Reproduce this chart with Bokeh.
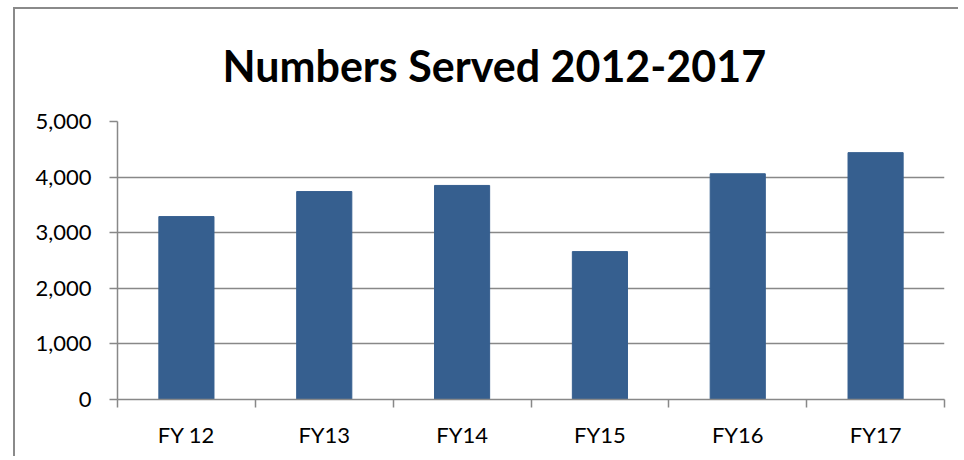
from bokeh.plotting import figure
from bokeh.models import Range1d, FixedTicker, NumeralTickFormatter, ColumnDataSource
from bokeh.embed import file_html
from bokeh.resources import INLINE

categories = ["FY 12", "FY13", "FY14", "FY15", "FY16", "FY17"]
served = [3290, 3740, 3850, 2660, 4060, 4440]
y_ticks = [0, 1000, 2000, 3000, 4000, 5000]
title_text = "Numbers Served 2012-2017"

centers = [i + 0.5 for i in range(len(categories))]
bounds = list(range(len(categories) + 1))

src = ColumnDataSource(dict(x=centers, top=served, cat=categories))

p = figure(width=945, height=449, output_backend="svg", toolbar_location=None,
           x_range=Range1d(0, len(categories)), y_range=Range1d(0, y_ticks[-1]),
           min_border_left=102, min_border_right=16, min_border_top=112, min_border_bottom=59)
p.styles = {"border-left": "2px solid #8a8a8a", "border-top": "2px solid #8a8a8a",
            "margin-left": "13px", "margin-top": "7px"}
p.outline_line_color = None
p.background_fill_color = "white"
p.border_fill_color = "white"

p.title.text = title_text
p.title.text_font = "Lato"
p.title.text_font_style = "bold"
p.title.text_font_size = "43px"
p.title.text_color = "black"
p.title.align = "left"
p.title.offset = 105
p.title.vertical_align = "top"
p.title.standoff = 58

p.vbar(x="x", top="top", width=0.4, source=src, fill_color="#365F8F", line_color="#365F8F")

p.xgrid.visible = False
p.ygrid.ticker = FixedTicker(ticks=y_ticks)
p.ygrid.grid_line_color = "#888888"
p.ygrid.grid_line_width = 1.5

xa = p.xaxis[0]
xa.ticker = FixedTicker(ticks=centers, minor_ticks=bounds)
xa.major_label_overrides = {c: lab for c, lab in zip(centers, categories)}
xa.major_tick_out = 0
xa.major_tick_in = 0
xa.minor_tick_out = 8
xa.minor_tick_in = 0
xa.minor_tick_line_color = "#888888"
xa.minor_tick_line_width = 1.5
xa.axis_line_color = "#888888"
xa.axis_line_width = 1.5
xa.major_label_text_font = "Lato"
xa.major_label_text_font_size = "22px"
xa.major_label_text_color = "black"
xa.major_label_standoff = 13

ya = p.yaxis[0]
ya.ticker = FixedTicker(ticks=y_ticks)
ya.formatter = NumeralTickFormatter(format="0,0")
ya.major_tick_out = 8
ya.major_tick_in = 0
ya.minor_tick_out = 0
ya.minor_tick_in = 0
ya.major_tick_line_color = "#888888"
ya.major_tick_line_width = 1.5
ya.axis_line_color = "#888888"
ya.axis_line_width = 1.5
ya.major_label_text_font = "Lato"
ya.major_label_text_font_size = "22px"
ya.major_label_text_color = "black"
ya.major_label_standoff = 18

open("out.html", "w").write(file_html(p, INLINE))
